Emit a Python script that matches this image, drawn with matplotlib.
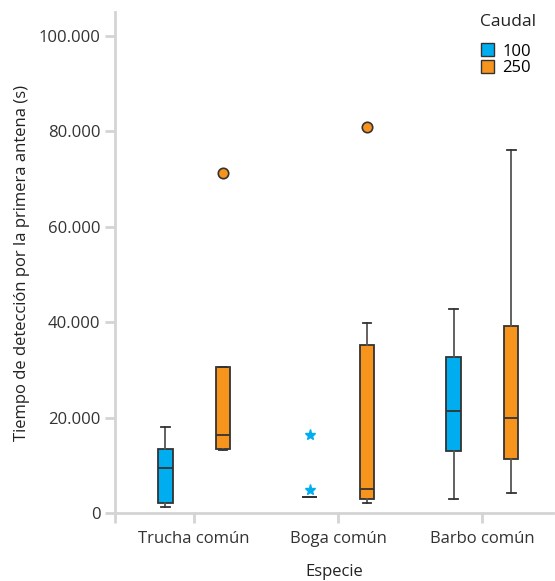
import matplotlib.pyplot as plt
from matplotlib.patches import Patch
from matplotlib.ticker import FuncFormatter

especies = ["Trucha común", "Boga común", "Barbo común"]
caudales = ["100", "250"]

# box statistics, one value per especie
q1 = {"100": [2200, 3300, 13000], "250": [13500, 2900, 11300]}
med = {"100": [9500, 3300, 21300], "250": [16300, 5000, 19900]}
q3 = {"100": [13500, 3300, 32700], "250": [30600, 35300, 39200]}
whislo = {"100": [1300, 3300, 3000], "250": [13200, 2000, 4100]}
whishi = {"100": [18000, 3300, 42800], "250": [30600, 39800, 76100]}
outliers = {"100": [[], [], []], "250": [[71200], [80800], []]}
extremos = {"100": [[], [16300, 4800], []], "250": [[], [], []]}

colores = {"100": "#00aeef", "250": "#f7941d"}
offsets = {"100": -0.2, "250": 0.2}

plt.rcParams['font.family'] = ['Open Sans', 'DejaVu Sans']

fig = plt.figure(figsize=(5.55, 5.81), dpi=100)
ax = fig.add_axes([0.2072, 0.117, 0.7892, 0.8623])

edge = "#333333"
for c in caudales:
    stats = []
    for i in range(len(especies)):
        stats.append(dict(med=med[c][i], q1=q1[c][i], q3=q3[c][i],
                          whislo=whislo[c][i], whishi=whishi[c][i],
                          fliers=outliers[c][i]))
    pos = [i + offsets[c] for i in range(len(especies))]
    ax.bxp(stats, positions=pos, widths=0.1, patch_artist=True,
           boxprops=dict(facecolor=colores[c], edgecolor=edge, linewidth=1.3),
           medianprops=dict(color=edge, linewidth=1.3),
           whiskerprops=dict(color="#555555", linewidth=1.3),
           capprops=dict(color=edge, linewidth=1.3),
           capwidths=0.06,
           flierprops=dict(marker="o", markerfacecolor=colores[c],
                           markeredgecolor=edge, markersize=7.5,
                           markeredgewidth=1.2),
           manage_ticks=False)
    for i in range(len(especies)):
        if extremos[c][i]:
            ax.plot([i + offsets[c]] * len(extremos[c][i]), extremos[c][i],
                    linestyle="none", marker="*", color=colores[c],
                    markersize=8)

ax.set_xlim(-0.55, 2.49)
ax.set_ylim(0, 105000)
ax.set_xticks(range(len(especies)))
ax.set_xticklabels(especies)
ax.set_xticks([-0.55], minor=True)
ax.set_yticks([0, 20000, 40000, 60000, 80000, 100000])
ax.yaxis.set_major_formatter(FuncFormatter(lambda v, p: f"{int(v):,}".replace(",", ".")))

spine_col = "#d4d4d4"
for s in ["top", "right"]:
    ax.spines[s].set_visible(False)
for s in ["left", "bottom"]:
    ax.spines[s].set_color(spine_col)
    ax.spines[s].set_linewidth(2)
ax.tick_params(axis="both", which="both", color=spine_col, width=2, length=7,
               labelsize=12, labelcolor="#333333")
ax.tick_params(axis="x", pad=6)

ax.set_xlabel("Especie", fontsize=12, color="#222222", labelpad=12)
ax.set_ylabel("Tiempo de detección por la primera antena (s)", fontsize=12,
              color="#222222", labelpad=6)

fig.text(480 / 555, 1 - 22 / 581, "Caudal", fontsize=12.5, color="#222222",
         ha="left", va="center")
handles = [Patch(facecolor=colores[c], edgecolor=edge, label=c) for c in caudales]
leg = fig.legend(handles=handles, loc="upper left",
                 bbox_to_anchor=(478 / 555, 1 - 40 / 581), frameon=False,
                 fontsize=12, handlelength=0.75, handleheight=0.8,
                 handletextpad=0.5, labelspacing=0.05, borderaxespad=0,
                 borderpad=0.2)

fig.savefig("out.png", dpi=100)
